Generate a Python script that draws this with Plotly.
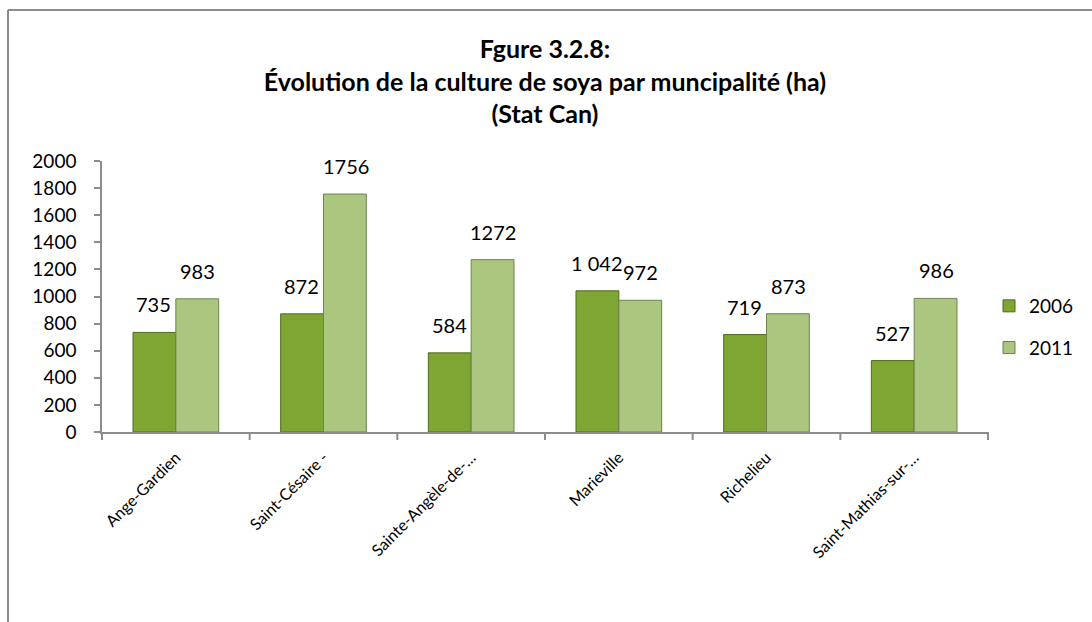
import plotly.graph_objects as go

# Soybean area (ha) by municipality, Statistics Canada census years
municipalities = [
    "Ange-Gardien",
    "Saint-Césaire -",
    "Sainte-Angèle-de-…",
    "Marieville",
    "Richelieu",
    "Saint-Mathias-sur-…",
]
soya_2006 = [735, 872, 584, 1042, 719, 527]
soya_2011 = [983, 1756, 1272, 972, 873, 986]
y_ticks = [0, 200, 400, 600, 800, 1000, 1200, 1400, 1600, 1800, 2000]


def fmt(v):
    # thousands separated by a space, French style
    return f"{v:,}".replace(",", " ")


FONT = "Lato"
W, H = 1092, 622
ML, MR, MT, MB = 102, 104, 161, 190
BAR_OFFSET = 22  # half a bar width, in pixels, for the value labels

fig = go.Figure()
fig.add_trace(go.Bar(
    name="2006", x=municipalities, y=soya_2006,
    legendgroup="a",
    marker=dict(color="#7fa533", line=dict(color="#4f6b1c", width=1)),
))
fig.add_trace(go.Bar(
    name="2011", x=municipalities, y=soya_2011,
    legendgroup="b",
    marker=dict(color="#aac67f", line=dict(color="#6e8350", width=1)),
))

# value labels above each bar
for cat, v in zip(municipalities, soya_2006):
    fig.add_annotation(x=cat, y=v, text=fmt(v), showarrow=False,
                       xanchor="center", yanchor="bottom",
                       xshift=-BAR_OFFSET, yshift=14,
                       font=dict(family=FONT, size=20, color="#000000"))
for cat, v in zip(municipalities, soya_2011):
    fig.add_annotation(x=cat, y=v, text=fmt(v).replace(" ", ""), showarrow=False,
                       xanchor="center", yanchor="bottom",
                       xshift=BAR_OFFSET, yshift=14,
                       font=dict(family=FONT, size=20, color="#000000"))

plot_w = W - ML - MR
plot_h = H - MT - MB

# outer chart frame (left and top edges visible)
left_x = (8 - ML) / plot_w
top_y = (H - MB - 10) / plot_h
fig.add_shape(type="line", xref="paper", yref="paper",
              x0=left_x, x1=left_x, y0=top_y, y1=-2,
              line=dict(color="#8c8c8c", width=2))
fig.add_shape(type="line", xref="paper", yref="paper",
              x0=left_x, x1=2, y0=top_y, y1=top_y,
              line=dict(color="#8c8c8c", width=2))

fig.update_layout(
    width=W, height=H,
    margin=dict(l=ML, r=MR, t=MT, b=MB, autoexpand=False),
    paper_bgcolor="white", plot_bgcolor="white",
    barmode="group", bargap=0.42, bargroupgap=0.0,
    title=dict(
        text="Fgure 3.2.8:<br>Évolution de la culture de soya par muncipalité (ha)<br>(Stat Can)",
        x=(545 / W), xanchor="center", y=1 - 58 / H, yanchor="top",
        font=dict(family=FONT, size=25, color="#000000", weight="bold"),
    ),
    font=dict(family=FONT, color="#000000"),
    showlegend=True,
    legend=dict(
        x=(989 - ML) / plot_w, xanchor="left",
        y=(H - MB - 287) / plot_h, yanchor="top",
        font=dict(family=FONT, size=19, color="#000000"),
        bgcolor="rgba(0,0,0,0)", itemwidth=30,
        traceorder="grouped", tracegroupgap=14,
    ),
    xaxis=dict(
        tickangle=-45, tickfont=dict(family=FONT, size=16, color="#000000"),
        showline=True, linecolor="#8c8c8c", linewidth=2,
        ticks="", showgrid=False, zeroline=False, ticklabelstandoff=8,
    ),
    yaxis=dict(
        range=[0, 2000], tickvals=y_ticks, ticktext=[str(v) for v in y_ticks],
        tickfont=dict(family=FONT, size=19, color="#000000"),
        showline=True, linecolor="#8c8c8c", linewidth=1.5,
        ticks="outside", ticklen=6, tickcolor="#8c8c8c", tickwidth=1.5,
        showgrid=False, zeroline=False, ticklabelstandoff=14,
    ),
)

# tick marks between categories on the category axis
for i in range(len(municipalities) + 1):
    xp = i / len(municipalities)
    fig.add_shape(type="line", xref="paper", yref="paper",
                  x0=xp, x1=xp, y0=0, y1=-8 / plot_h,
                  line=dict(color="#8c8c8c", width=2))

fig.write_html("out.html")
